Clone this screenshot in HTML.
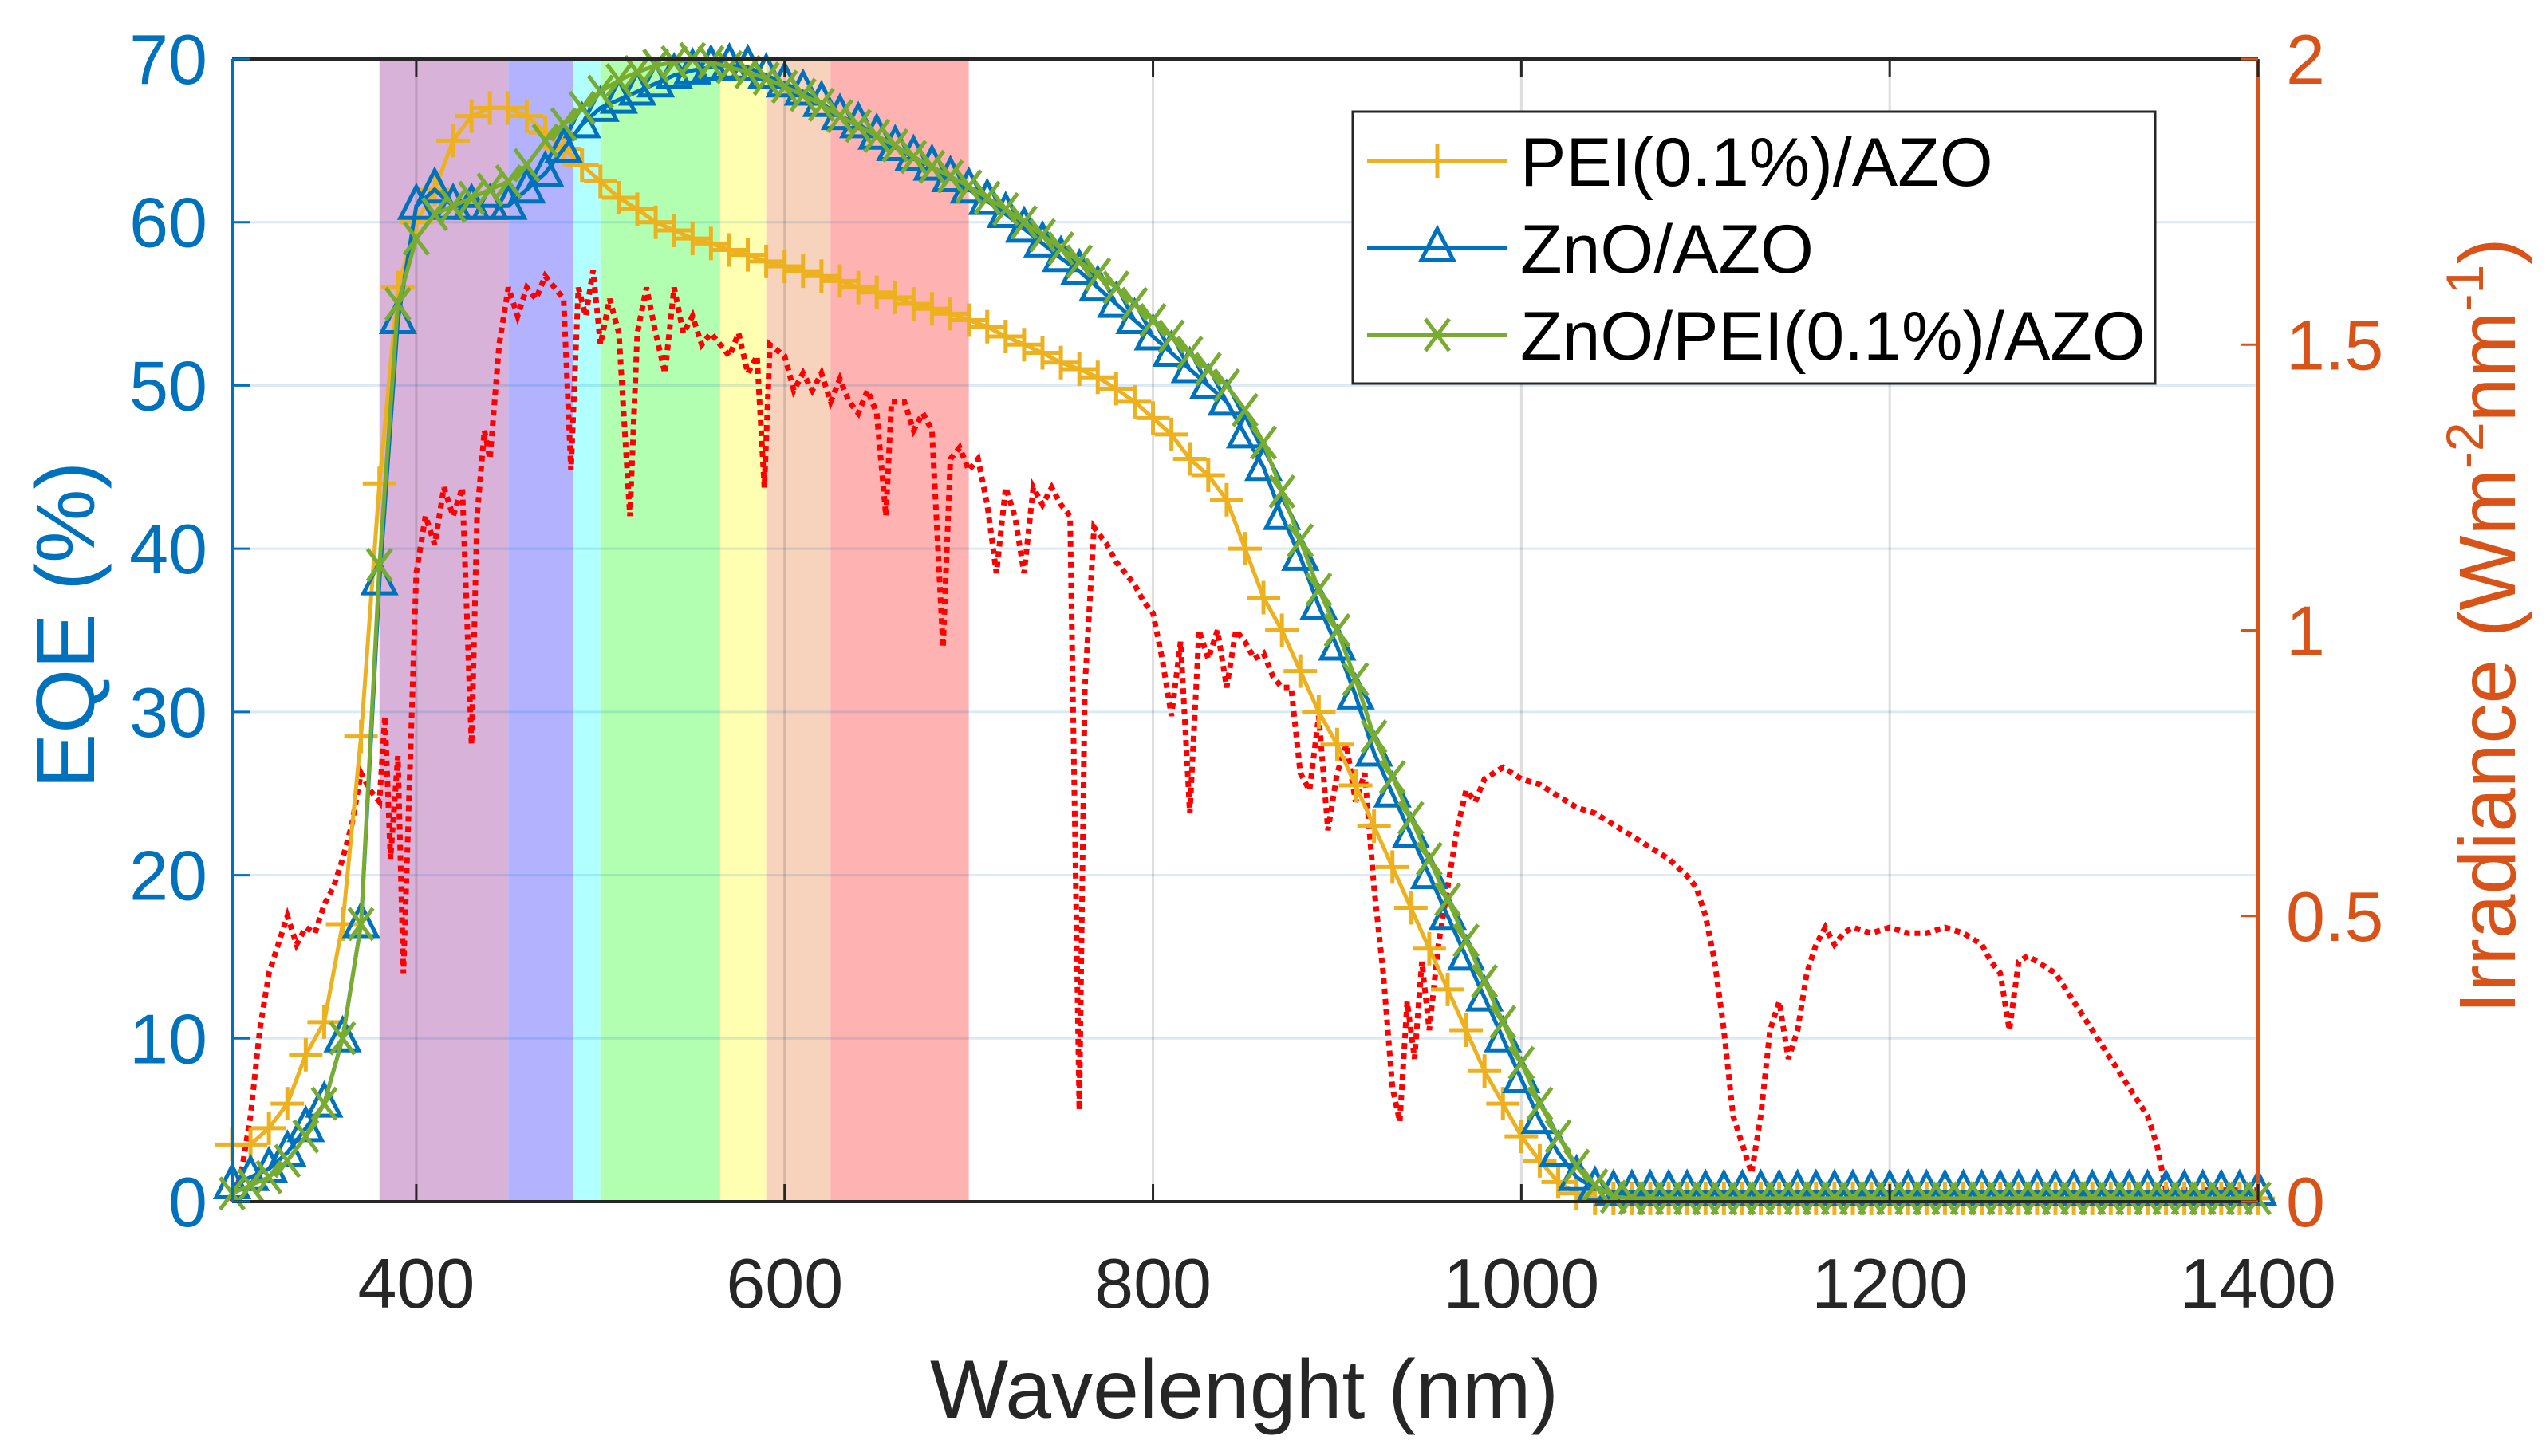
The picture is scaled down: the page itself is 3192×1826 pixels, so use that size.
<!DOCTYPE html>
<html><head><meta charset="utf-8"><style>
html,body{margin:0;padding:0;background:#fff}
svg{display:block;font-family:"Liberation Sans",Arial,sans-serif}
</style></head><body>
<svg id="chart" width="3192" height="1826" viewBox="0 0 3192 1826" xmlns="http://www.w3.org/2000/svg">
<g id="bands"></g>
<g id="grid"></g>
<g id="irr"></g>
<g id="series"></g>
<g id="axes"></g>
<g id="legend"></g>
<text x="1560" y="1778" font-size="104" fill="#262626" text-anchor="middle">Wavelenght (nm)</text>
<text transform="translate(118,784) rotate(-90)" font-size="104" fill="#0072BD" text-anchor="middle">EQE (%)</text>
<text transform="translate(3153,785) rotate(-90)" font-size="100" fill="#D95319" text-anchor="middle">Irradiance (Wm<tspan font-size="66" dy="-40">-2</tspan><tspan dy="40">nm</tspan><tspan font-size="66" dy="-40">-1</tspan><tspan dy="40">)</tspan></text>
</svg>
<script>
const NS='http://www.w3.org/2000/svg';
const xTicks=[400,600,800,1000,1200,1400];
const yTicksLeft=[0,10,20,30,40,50,60,70];
const yTicksRight=[0,0.5,1,1.5,2];
const yTickRightLabels=['0','0.5','1','1.5','2'];
const bandStart=[380,450,485,500,565,590,625];
const bandEnd=[450,485,500,565,590,625,700];
const bandColors=['#d8b2d8','#b2b2ff','#b2ffff','#b2ffb2','#ffffb2','#f7d2bd','#ffb2b2'];
const wl=[];for(let w=300;w<=1400;w+=10)wl.push(w);
const eqePEI=[3.5,3.5,4.5,6,9,11,17,28.5,44,56,60,62,65,66.5,67,67,66.5,65.5,64.5,63.5,62.5,61.5,60.8,60,59.5,59,58.7,58.3,58,57.6,57.3,57,56.7,56.4,56,55.7,55.4,55,54.7,54.4,54,53.6,53,52.5,52,51.4,51,50.5,49.8,49,48,47,45.5,44.5,43,40,37,35,32.5,30,28,25.5,23,20.5,18,15.5,13,10.5,8,6,4,2.5,1.2,0.5,0.2,0.2,0.2,0.2,0.2,0.2,0.2,0.2,0.2,0.2,0.2,0.2,0.2,0.2,0.2,0.2,0.2,0.2,0.2,0.2,0.2,0.2,0.2,0.2,0.2,0.2,0.2,0.2,0.2,0.2,0.2,0.2,0.2,0.2,0.2,0.2,0.2];
const eqeZnO=[1,1.5,2,3,4.5,6,10,17,38,54,61,62,61,61,61,61,62,63,64.5,66,67,67.5,68,68.5,69,69.3,69.5,69.6,69.5,69,68.5,68,67.3,66.5,66,65.3,64.6,64,63.4,62.7,62,61.3,60.5,59.6,58.7,57.8,57,56,55,54,53,52,51,50,49,47,45,42,39.5,36.5,34,31,27.5,25,22.5,20,17.5,15,12.5,10,7.5,5,3,1.5,0.8,0.6,0.6,0.6,0.6,0.6,0.6,0.6,0.6,0.6,0.6,0.6,0.6,0.6,0.6,0.6,0.6,0.6,0.6,0.6,0.6,0.6,0.6,0.6,0.6,0.6,0.6,0.6,0.6,0.6,0.6,0.6,0.6,0.6,0.6,0.6,0.6];
const eqeZnOPEI=[0.5,1,1.5,2.5,4,6,10,17,39,55,59,60.5,61,61.5,62,62.5,63.5,65,66,67,68,68.7,69.2,69.6,69.8,70,69.8,69.5,69.2,68.8,68.3,67.8,67.2,66.5,65.9,65.3,64.7,64,63.4,62.8,62.2,61.5,60.8,60,59.2,58.4,57.6,56.8,56,55,54,53,52,51,50,48.5,46.5,43.5,40.5,37.5,35,32,28.5,26,23.5,21,18.5,16,13.5,11,8.5,6,4,2.2,1,0.3,0.2,0.2,0.2,0.2,0.2,0.2,0.2,0.2,0.2,0.2,0.2,0.2,0.2,0.2,0.2,0.2,0.2,0.2,0.2,0.2,0.2,0.2,0.2,0.2,0.2,0.2,0.2,0.2,0.2,0.2,0.2,0.2,0.2,0.2,0.2];
const irrWl=[300,305,310,315,320,325,330,335,340,345,350,355,360,365,370,375,380,383,386,390,393,396,400,405,410,415,420,425,430,433,437,440,445,450,455,460,465,470,475,480,484,488,492,496,500,505,510,516,520,525,530,535,540,545,550,555,560,565,570,575,580,585,589,592,600,605,610,615,620,625,630,635,640,645,650,655,658,665,670,675,680,686,690,695,700,705,710,715,720,725,730,735,740,745,750,755,760,763,768,775,780,785,790,795,800,805,810,815,820,825,830,835,840,845,850,855,860,865,870,875,880,885,890,895,900,905,910,915,920,925,930,934,938,942,946,950,955,960,965,970,975,980,985,990,1000,1010,1020,1030,1040,1050,1060,1070,1080,1090,1095,1100,1105,1110,1115,1120,1125,1130,1135,1140,1145,1150,1155,1160,1165,1170,1175,1180,1190,1200,1210,1220,1230,1240,1250,1255,1260,1265,1270,1275,1280,1290,1300,1310,1320,1330,1340,1345,1350,1400];
const irrVal=[0.0,0.05,0.15,0.3,0.4,0.45,0.5,0.45,0.48,0.47,0.52,0.55,0.6,0.66,0.75,0.72,0.7,0.85,0.6,0.78,0.4,0.7,1.1,1.2,1.15,1.25,1.2,1.25,0.8,1.2,1.35,1.3,1.5,1.6,1.55,1.6,1.58,1.62,1.6,1.58,1.28,1.6,1.55,1.63,1.5,1.58,1.52,1.2,1.52,1.6,1.52,1.45,1.6,1.52,1.55,1.5,1.52,1.5,1.48,1.52,1.45,1.48,1.25,1.5,1.48,1.42,1.45,1.42,1.45,1.4,1.44,1.4,1.38,1.42,1.38,1.2,1.4,1.4,1.35,1.38,1.35,0.97,1.3,1.32,1.28,1.3,1.22,1.1,1.25,1.2,1.1,1.25,1.22,1.25,1.22,1.2,0.16,0.9,1.18,1.15,1.12,1.1,1.08,1.05,1.03,0.95,0.85,0.98,0.68,1.0,0.95,1.0,0.9,1.0,0.98,0.95,0.96,0.92,0.9,0.9,0.75,0.72,0.85,0.65,0.75,0.8,0.7,0.75,0.55,0.4,0.2,0.14,0.35,0.25,0.42,0.3,0.45,0.55,0.65,0.72,0.7,0.74,0.75,0.76,0.74,0.73,0.71,0.69,0.68,0.66,0.64,0.62,0.6,0.57,0.55,0.5,0.42,0.3,0.15,0.1,0.05,0.15,0.3,0.35,0.25,0.3,0.4,0.45,0.48,0.45,0.47,0.48,0.47,0.48,0.47,0.47,0.48,0.47,0.45,0.42,0.4,0.3,0.42,0.43,0.42,0.4,0.35,0.3,0.25,0.2,0.15,0.1,0.02,0.02];

const L=291,R=2831,T=74,B=1507;
const xs=v=>L+(v-300)/1100*(R-L);
const yl=v=>B-v/70*(B-T);
const yr=v=>B-v/2*(B-T);
function el(tag,attrs,parent){const e=document.createElementNS(NS,tag);for(const k in attrs)e.setAttribute(k,attrs[k]);parent.appendChild(e);return e;}
const gB=document.getElementById('bands'),gG=document.getElementById('grid'),gI=document.getElementById('irr'),gS=document.getElementById('series'),gA=document.getElementById('axes'),gL=document.getElementById('legend');

bandStart.forEach((s,i)=>{const r=el('rect',{x:xs(s),y:T,width:xs(bandEnd[i])-xs(s),height:B-T,fill:bandColors[i]},gB);

});

yTicksLeft.forEach(v=>{if(v>0&&v<70){const l=el('line',{x1:L,x2:R,y1:yl(v),y2:yl(v),stroke:'#0072BD','stroke-opacity':0.15,'stroke-width':3},gG);

}});
xTicks.forEach(v=>{if(v<1400){const l=el('line',{x1:xs(v),x2:xs(v),y1:T,y2:B,stroke:'#000','stroke-opacity':0.13,'stroke-width':3},gG);

}});

const ip=el('polyline',{points:irrWl.map((w,i)=>xs(w)+','+yr(irrVal[i])).join(' '),fill:'none',stroke:'#ff0000','stroke-width':7,'stroke-dasharray':'7 6'},gI);



function marker(type,x,y,color,g){
 if(type==='plus'){el('path',{d:`M${x-21},${y}H${x+21}M${x},${y-21}V${y+21}`,stroke:color,'stroke-width':5,fill:'none'},g);}
 else if(type==='tri'){el('path',{d:`M${x},${y-24}L${x+20},${y+15}L${x-20},${y+15}Z`,stroke:color,'stroke-width':5,fill:'none'},g);}
 else {el('path',{d:`M${x-15},${y-20}L${x+15},${y+20}M${x+15},${y-20}L${x-15},${y+20}`,stroke:color,'stroke-width':5,fill:'none'},g);}
}
const seriesDefs=[{name:'pei-azo',data:eqePEI,color:'#EDB120',m:'plus',label:'PEI(0.1%)/AZO'},{name:'zno-azo',data:eqeZnO,color:'#0072BD',m:'tri',label:'ZnO/AZO'},{name:'zno-pei-azo',data:eqeZnOPEI,color:'#77AC30',m:'x',label:'ZnO/PEI(0.1%)/AZO'}];
seriesDefs.forEach(s=>{const g=el('g',{},gS);


el('polyline',{points:wl.map((w,i)=>xs(w)+','+yl(s.data[i])).join(' '),fill:'none',stroke:s.color,'stroke-width':5},g);
wl.forEach((w,i)=>marker(s.m,xs(w),yl(s.data[i]),s.color,g));});

el('line',{x1:L,x2:R,y1:T,y2:T,stroke:'#262626','stroke-width':4},gA);
el('line',{x1:L,x2:R,y1:B,y2:B,stroke:'#262626','stroke-width':4},gA);
el('line',{x1:L,x2:L,y1:T,y2:B,stroke:'#0072BD','stroke-width':4},gA);
el('line',{x1:R,x2:R,y1:T,y2:B,stroke:'#D95319','stroke-width':4},gA);
xTicks.forEach(v=>{el('line',{x1:xs(v),x2:xs(v),y1:B,y2:B-22,stroke:'#262626','stroke-width':3},gA);el('line',{x1:xs(v),x2:xs(v),y1:T,y2:T+22,stroke:'#262626','stroke-width':3},gA);
const t=el('text',{x:xs(v),y:1640,'font-size':88,fill:'#262626','text-anchor':'middle'},gA);t.textContent=v;

});
yTicksLeft.forEach(v=>{el('line',{x1:L,x2:L+22,y1:yl(v),y2:yl(v),stroke:'#0072BD','stroke-width':3},gA);
const t=el('text',{x:260,y:yl(v)+31,'font-size':88,fill:'#0072BD','text-anchor':'end'},gA);t.textContent=v;

});
yTicksRight.forEach((v,i)=>{el('line',{x1:R,x2:R-22,y1:yr(v),y2:yr(v),stroke:'#D95319','stroke-width':3},gA);
const t=el('text',{x:2866,y:yr(v)+31,'font-size':88,fill:'#D95319','text-anchor':'start'},gA);t.textContent=yTickRightLabels[i];

});

el('rect',{x:1696,y:140,width:1006,height:341,fill:'#fff',stroke:'#262626','stroke-width':3},gL);
seriesDefs.forEach((s,i)=>{const y=202+i*109;const g=el('g',{},gL);


el('line',{x1:1714,x2:1890,y1:y,y2:y,stroke:s.color,'stroke-width':6},g);
marker(s.m,1802,y,s.color,g);
const t=el('text',{x:1906,y:y+31,'font-size':86,fill:'#000'},g);t.textContent=s.label;});
</script>
</body></html>
